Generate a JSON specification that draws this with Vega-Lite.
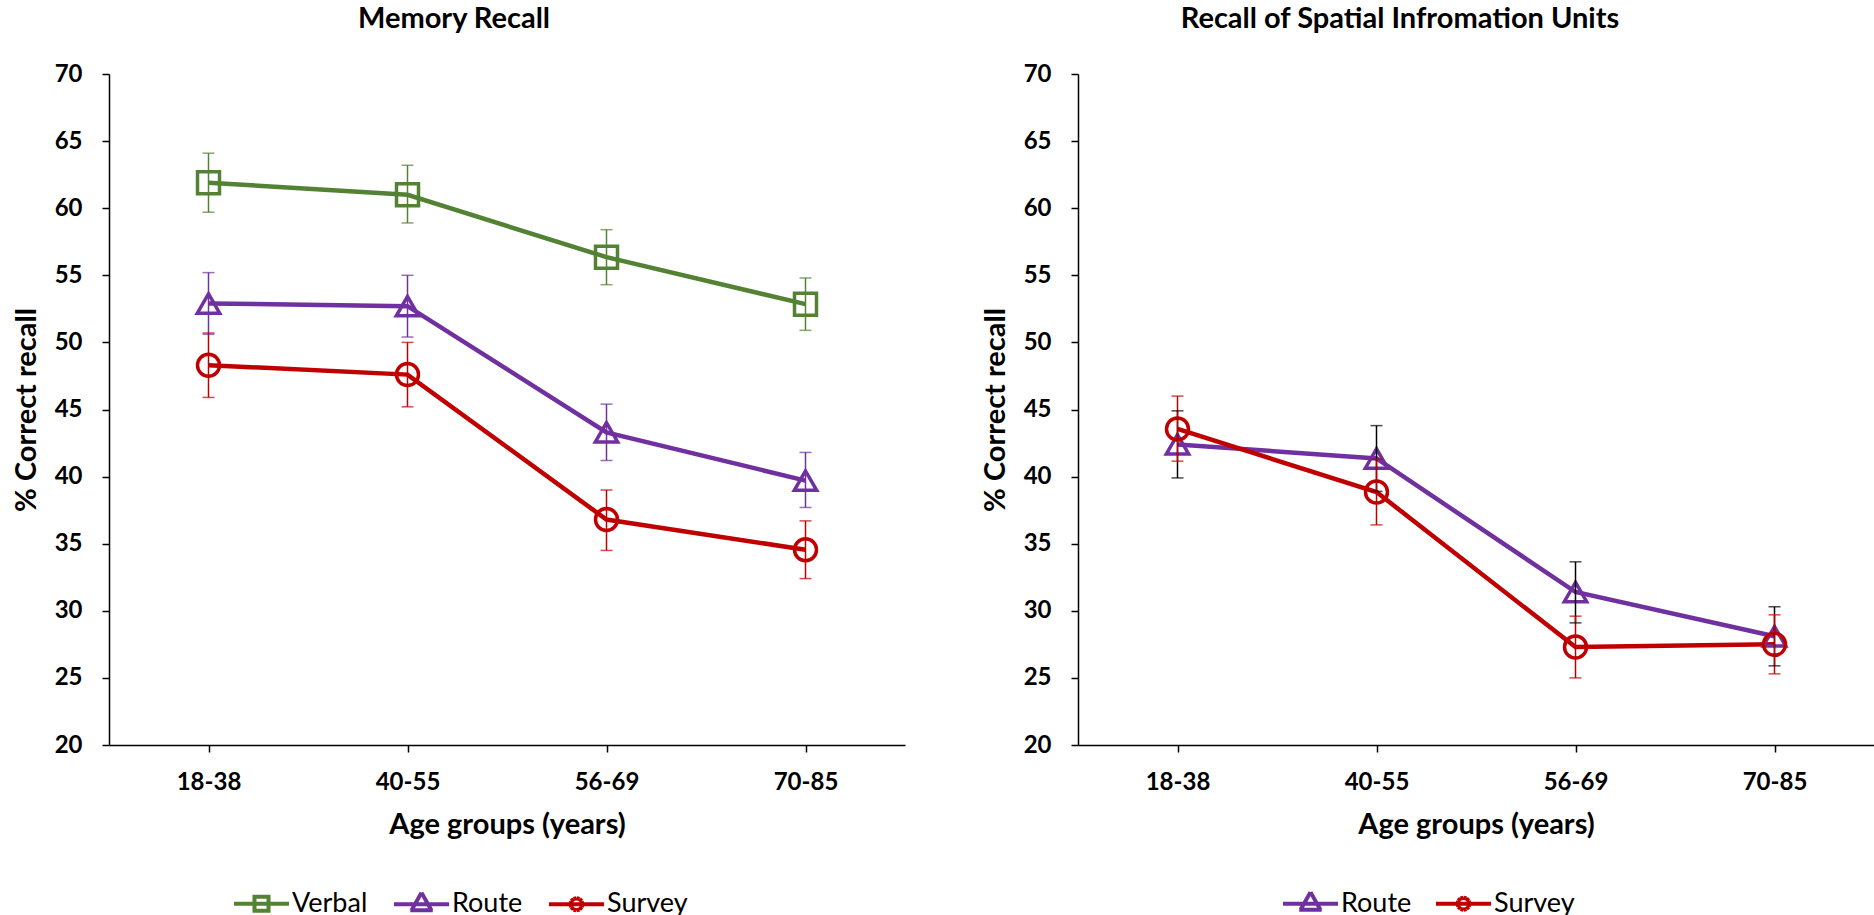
{
  "$schema": "https://vega.github.io/schema/vega-lite/v6.json",
  "background": "white",
  "padding": {"left": 12, "top": 5, "right": 0, "bottom": 0},
  "config": {
    "font": "Lato",
    "view": {"stroke": null},
    "axis": {"domainColor": "black", "tickColor": "black", "domainWidth": 1.5, "tickWidth": 1.5, "tickSize": 7, "labelFont": "Lato", "labelFontWeight": "bold", "labelFontSize": 24, "labelColor": "black", "titleFont": "Lato", "titleFontSize": 29, "titleFontWeight": "bold", "titleColor": "black", "grid": false},
    "title": {"font": "Lato", "fontSize": 29, "fontWeight": "bold", "color": "black", "offset": 28},
    "legend": {"labelFont": "Lato", "labelFontSize": 27, "labelColor": "black", "symbolFillColor": "transparent"}
  },
  "datasets": {
    "memory": [
      {"age": "18-38", "series": "Verbal", "value": 61.9, "lo": 59.7, "hi": 64.1},
      {"age": "40-55", "series": "Verbal", "value": 61.0, "lo": 58.9, "hi": 63.2},
      {"age": "56-69", "series": "Verbal", "value": 56.35, "lo": 54.3, "hi": 58.4},
      {"age": "70-85", "series": "Verbal", "value": 52.85, "lo": 50.9, "hi": 54.8},
      {"age": "18-38", "series": "Route", "value": 52.9, "lo": 50.6, "hi": 55.2},
      {"age": "40-55", "series": "Route", "value": 52.7, "lo": 50.4, "hi": 55.0},
      {"age": "56-69", "series": "Route", "value": 43.3, "lo": 41.2, "hi": 45.4},
      {"age": "70-85", "series": "Route", "value": 39.7, "lo": 37.7, "hi": 41.8},
      {"age": "18-38", "series": "Survey", "value": 48.3, "lo": 45.9, "hi": 50.7},
      {"age": "40-55", "series": "Survey", "value": 47.6, "lo": 45.2, "hi": 50.0},
      {"age": "56-69", "series": "Survey", "value": 36.8, "lo": 34.5, "hi": 39.0},
      {"age": "70-85", "series": "Survey", "value": 34.55, "lo": 32.4, "hi": 36.7}
    ],
    "spatial": [
      {"age": "18-38", "series": "Route", "value": 42.4, "lo": 39.9, "hi": 44.9},
      {"age": "40-55", "series": "Route", "value": 41.35, "lo": 38.9, "hi": 43.8},
      {"age": "56-69", "series": "Route", "value": 31.4, "lo": 29.1, "hi": 33.65},
      {"age": "70-85", "series": "Route", "value": 28.1, "lo": 25.9, "hi": 30.3},
      {"age": "18-38", "series": "Survey", "value": 43.55, "lo": 41.15, "hi": 46.0},
      {"age": "40-55", "series": "Survey", "value": 38.85, "lo": 36.4, "hi": 41.3},
      {"age": "56-69", "series": "Survey", "value": 27.3, "lo": 25.0, "hi": 29.6},
      {"age": "70-85", "series": "Survey", "value": 27.5, "lo": 25.3, "hi": 29.7}
    ]
  },
  "spacing": 76,
  "resolve": {"scale": {"color": "independent", "shape": "independent"}, "legend": {"color": "independent", "shape": "independent"}},
  "hconcat": [
    {
      "width": 796,
      "height": 671,
      "title": {"text": "Memory Recall", "dx": -53},
      "data": {"name": "memory"},
      "encoding": {
        "x": {"field": "age", "type": "ordinal", "sort": ["18-38", "40-55", "56-69", "70-85"], "scale": {"type": "point", "padding": 0.5}, "axis": {"title": "Age groups (years)", "labelAngle": 0, "labelPadding": 18, "titlePadding": 16}}
      },
      "layer": [
        {
          "mark": {"type": "line", "strokeWidth": 4.5},
          "encoding": {
            "y": {"field": "value", "type": "quantitative", "title": "% Correct recall", "scale": {"domain": [20, 70], "nice": false, "zero": false}, "axis": {"values": [20, 25, 30, 35, 40, 45, 50, 55, 60, 65, 70], "labelPadding": 20, "titlePadding": 13}},
            "color": {"field": "series", "type": "nominal", "scale": {"domain": ["Verbal", "Route", "Survey"], "range": ["#548235", "#7030A0", "#C00000"]},
              "legend": {"orient": "none", "legendX": 139, "legendY": 816, "direction": "horizontal", "title": null, "padding": 0, "symbolSize": 324, "symbolStrokeWidth": 4, "symbolFillColor": "transparent", "symbolOpacity": 1, "labelOffset": 17, "columnPadding": 17}}
          }
        },
        {
          "mark": {"type": "point", "filled": false, "fill": "transparent", "size": 0, "strokeWidth": 4, "opacity": 1},
          "encoding": {
            "y": {"field": "value", "type": "quantitative", "title": "% Correct recall"},
            "color": {"field": "series", "type": "nominal",
              "legend": {"orient": "none", "legendX": 139, "legendY": 816, "direction": "horizontal", "title": null, "padding": 0, "symbolSize": 324, "symbolStrokeWidth": 4, "symbolFillColor": "transparent", "symbolOpacity": 1, "labelOffset": 17, "columnPadding": 17}},
            "shape": {"field": "series", "type": "nominal", "scale": {"domain": ["Verbal", "Route", "Survey"], "range": [
              "M-3.06,0H3.06M-1,-0.78H1M0.78,-0.78V0.78M1,0.78H-1M-0.78,0.78V-0.78",
              "M-3.06,0H3.06M0,-1.3L1.1,0.65M1.25,0.65H-1.25M-1.1,0.65L0,-1.3",
              "M-3.06,0H3.06M0.67,0L0.58,0.335M0.58,0.335L0.335,0.58M0.335,0.58L0,0.67M0,0.67L-0.335,0.58M-0.335,0.58L-0.58,0.335M-0.58,0.335L-0.67,0M-0.67,0L-0.58,-0.335M-0.58,-0.335L-0.335,-0.58M-0.335,-0.58L0,-0.67M0,-0.67L0.335,-0.58M0.335,-0.58L0.58,-0.335M0.58,-0.335L0.67,0"]},
              "legend": {"orient": "none", "legendX": 139, "legendY": 816, "direction": "horizontal", "title": null, "padding": 0, "symbolSize": 324, "symbolStrokeWidth": 4, "symbolFillColor": "transparent", "symbolOpacity": 1, "labelOffset": 17, "columnPadding": 17}}
          }
        },
        {
          "transform": [{"filter": "datum.series === 'Verbal'"}],
          "mark": {"type": "point", "shape": "square", "filled": false, "strokeWidth": 3.5, "size": 484, "opacity": 1},
          "encoding": {
            "y": {"field": "value", "type": "quantitative", "title": "% Correct recall"},
            "color": {"field": "series", "type": "nominal", "legend": null}
          }
        },
        {
          "transform": [{"filter": "datum.series === 'Route'"}],
          "mark": {"type": "point", "shape": "triangle-up", "filled": false, "strokeWidth": 3.5, "size": 500, "opacity": 1},
          "encoding": {
            "y": {"field": "value", "type": "quantitative", "title": "% Correct recall"},
            "color": {"field": "series", "type": "nominal", "legend": null}
          }
        },
        {
          "transform": [{"filter": "datum.series === 'Survey'"}],
          "mark": {"type": "point", "shape": "circle", "filled": false, "strokeWidth": 3.5, "size": 484, "opacity": 1},
          "encoding": {
            "y": {"field": "value", "type": "quantitative", "title": "% Correct recall"},
            "color": {"field": "series", "type": "nominal", "legend": null}
          }
        },
        {
          "mark": {"type": "rule", "strokeWidth": 1.5},
          "encoding": {
            "y": {"field": "lo", "type": "quantitative", "title": "% Correct recall"},
            "y2": {"field": "hi"},
            "color": {"field": "series", "type": "nominal", "legend": null}
          }
        },
        {
          "mark": {"type": "tick", "thickness": 1.5, "size": 12},
          "encoding": {
            "y": {"field": "lo", "type": "quantitative", "title": "% Correct recall"},
            "color": {"field": "series", "type": "nominal", "legend": null}
          }
        },
        {
          "mark": {"type": "tick", "thickness": 1.5, "size": 12},
          "encoding": {
            "y": {"field": "hi", "type": "quantitative", "title": "% Correct recall"},
            "color": {"field": "series", "type": "nominal", "legend": null}
          }
        }
      ]
    },
    {
      "width": 796,
      "height": 671,
      "title": {"text": "Recall of Spatial Infromation Units", "dx": -76},
      "data": {"name": "spatial"},
      "encoding": {
        "x": {"field": "age", "type": "ordinal", "sort": ["18-38", "40-55", "56-69", "70-85"], "scale": {"type": "point", "padding": 0.5}, "axis": {"title": "Age groups (years)", "labelAngle": 0, "labelPadding": 18, "titlePadding": 16}}
      },
      "layer": [
        {
          "mark": {"type": "line", "strokeWidth": 4.5},
          "encoding": {
            "y": {"field": "value", "type": "quantitative", "title": "% Correct recall", "scale": {"domain": [20, 70], "nice": false, "zero": false}, "axis": {"values": [20, 25, 30, 35, 40, 45, 50, 55, 60, 65, 70], "labelPadding": 20, "titlePadding": 13}},
            "color": {"field": "series", "type": "nominal", "scale": {"domain": ["Route", "Survey"], "range": ["#7030A0", "#C00000"]},
              "legend": {"orient": "none", "legendX": 219, "legendY": 816, "direction": "horizontal", "title": null, "padding": 0, "symbolSize": 324, "symbolStrokeWidth": 4, "symbolFillColor": "transparent", "symbolOpacity": 1, "labelOffset": 17, "columnPadding": 15}}
          }
        },
        {
          "mark": {"type": "point", "filled": false, "fill": "transparent", "size": 0, "strokeWidth": 4, "opacity": 1},
          "encoding": {
            "y": {"field": "value", "type": "quantitative", "title": "% Correct recall"},
            "color": {"field": "series", "type": "nominal",
              "legend": {"orient": "none", "legendX": 219, "legendY": 816, "direction": "horizontal", "title": null, "padding": 0, "symbolSize": 324, "symbolStrokeWidth": 4, "symbolFillColor": "transparent", "symbolOpacity": 1, "labelOffset": 17, "columnPadding": 15}},
            "shape": {"field": "series", "type": "nominal", "scale": {"domain": ["Route", "Survey"], "range": [
              "M-3.06,0H3.06M0,-1.3L1.1,0.65M1.25,0.65H-1.25M-1.1,0.65L0,-1.3",
              "M-3.06,0H3.06M0.67,0L0.58,0.335M0.58,0.335L0.335,0.58M0.335,0.58L0,0.67M0,0.67L-0.335,0.58M-0.335,0.58L-0.58,0.335M-0.58,0.335L-0.67,0M-0.67,0L-0.58,-0.335M-0.58,-0.335L-0.335,-0.58M-0.335,-0.58L0,-0.67M0,-0.67L0.335,-0.58M0.335,-0.58L0.58,-0.335M0.58,-0.335L0.67,0"]},
              "legend": {"orient": "none", "legendX": 219, "legendY": 816, "direction": "horizontal", "title": null, "padding": 0, "symbolSize": 324, "symbolStrokeWidth": 4, "symbolFillColor": "transparent", "symbolOpacity": 1, "labelOffset": 17, "columnPadding": 15}}
          }
        },
        {
          "transform": [{"filter": "datum.series === 'Route'"}],
          "mark": {"type": "point", "shape": "triangle-up", "filled": false, "strokeWidth": 3.5, "size": 500, "opacity": 1},
          "encoding": {
            "y": {"field": "value", "type": "quantitative", "title": "% Correct recall"},
            "color": {"field": "series", "type": "nominal", "legend": null}
          }
        },
        {
          "transform": [{"filter": "datum.series === 'Survey'"}],
          "mark": {"type": "point", "shape": "circle", "filled": false, "strokeWidth": 3.5, "size": 484, "opacity": 1},
          "encoding": {
            "y": {"field": "value", "type": "quantitative", "title": "% Correct recall"},
            "color": {"field": "series", "type": "nominal", "legend": null}
          }
        },
        {
          "mark": {"type": "rule", "strokeWidth": 1.5},
          "encoding": {
            "y": {"field": "lo", "type": "quantitative", "title": "% Correct recall"},
            "y2": {"field": "hi"},
            "color": {"condition": {"test": "datum.series === 'Route'", "value": "black"}, "field": "series", "type": "nominal", "legend": null}
          }
        },
        {
          "mark": {"type": "tick", "thickness": 1.5, "size": 12},
          "encoding": {
            "y": {"field": "lo", "type": "quantitative", "title": "% Correct recall"},
            "color": {"condition": {"test": "datum.series === 'Route'", "value": "black"}, "field": "series", "type": "nominal", "legend": null}
          }
        },
        {
          "mark": {"type": "tick", "thickness": 1.5, "size": 12},
          "encoding": {
            "y": {"field": "hi", "type": "quantitative", "title": "% Correct recall"},
            "color": {"condition": {"test": "datum.series === 'Route'", "value": "black"}, "field": "series", "type": "nominal", "legend": null}
          }
        }
      ]
    }
  ]
}
